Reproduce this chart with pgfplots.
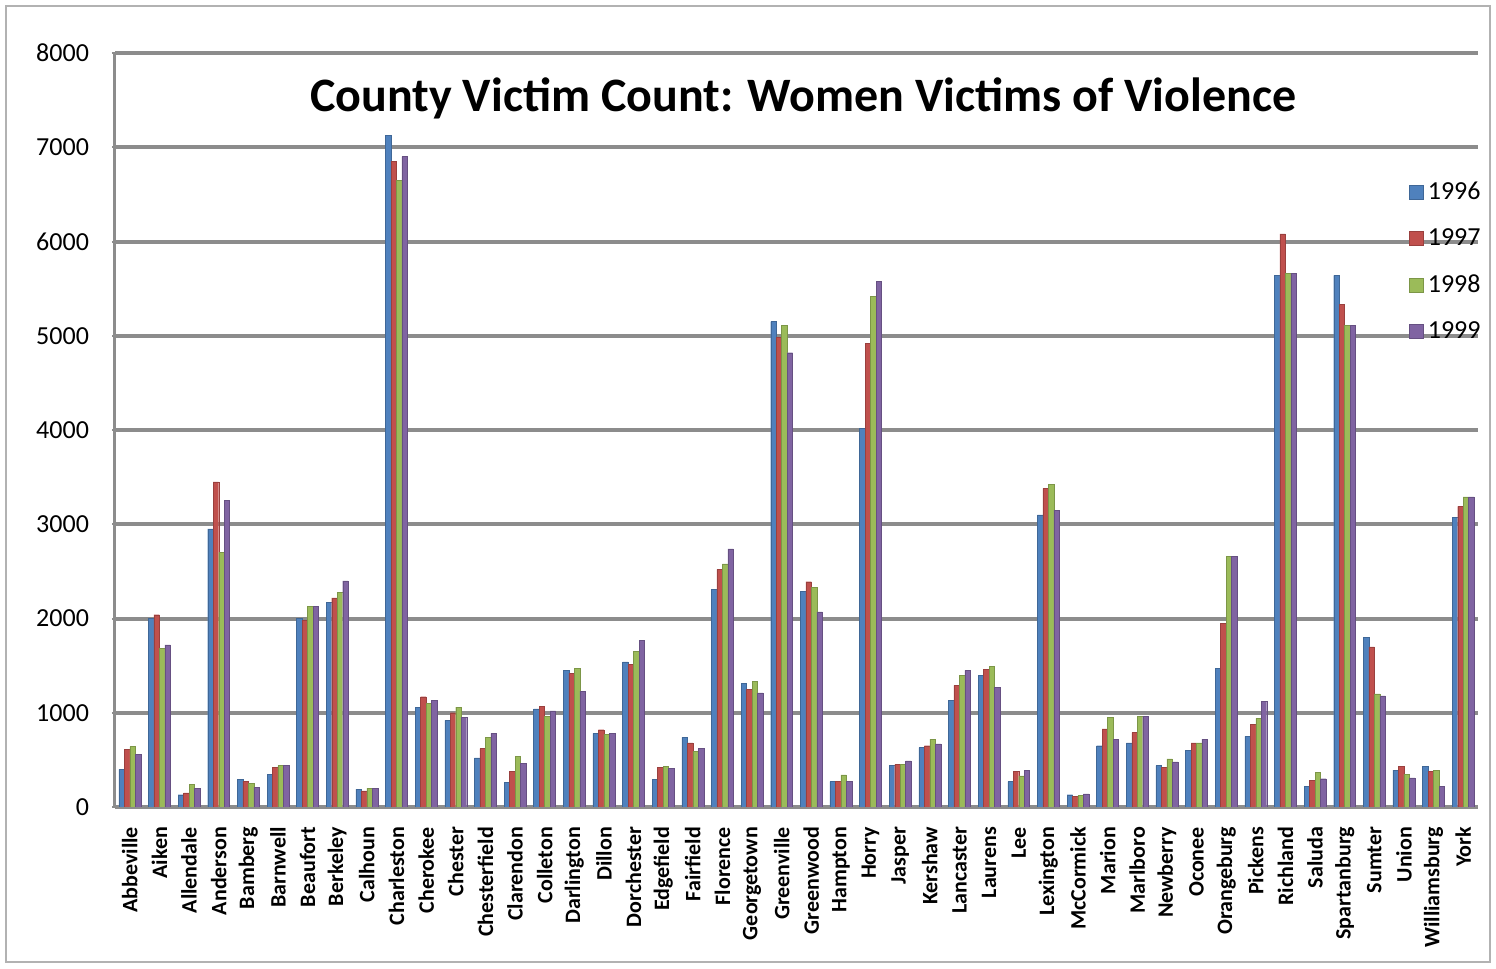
\documentclass[border=0pt]{standalone}
\usepackage{pgfplots}
\pgfplotsset{compat=1.18}
\usepackage{pgfplotstable}
\usepackage{fontspec}
\setmainfont{Carlito}

\definecolor{xblue}{RGB}{79,129,189}
\definecolor{xred}{RGB}{192,80,77}
\definecolor{xgreen}{RGB}{155,187,89}
\definecolor{xpurple}{RGB}{128,100,162}
\definecolor{gridgray}{RGB}{140,140,140}

% county index, 1996, 1997, 1998, 1999
\pgfplotstableread{
idx y96 y97 y98 y99
0 400 610 640 560
1 2000 2040 1680 1720
2 130 150 240 200
3 2950 3450 2700 3250
4 290 270 250 210
5 350 420 440 440
6 2000 1980 2130 2130
7 2170 2220 2280 2400
8 190 170 200 200
9 7130 6850 6650 6900
10 1060 1170 1100 1130
11 920 1000 1060 950
12 520 620 740 780
13 260 380 540 460
14 1040 1070 960 1020
15 1450 1420 1470 1230
16 780 820 770 780
17 1540 1510 1650 1770
18 290 420 430 410
19 740 680 590 620
20 2310 2520 2580 2740
21 1310 1250 1330 1210
22 5150 4980 5110 4820
23 2290 2390 2330 2070
24 270 270 340 270
25 4020 4920 5420 5580
26 440 450 450 490
27 630 650 720 670
28 1130 1290 1400 1450
29 1400 1460 1490 1270
30 270 380 330 390
31 3100 3380 3420 3150
32 130 110 120 140
33 650 830 950 720
34 680 790 960 960
35 440 420 510 480
36 600 680 680 720
37 1470 1950 2660 2660
38 750 880 940 1120
39 5640 6080 5660 5660
40 220 280 370 300
41 5640 5330 5110 5110
42 1800 1700 1200 1180
43 390 430 350 310
44 430 380 390 220
45 3070 3190 3290 3290
}\data

\begin{document}
\begin{tikzpicture}
\begin{axis}[
    at={(0,0)}, anchor=south west,
    scale only axis,
    width=681.5pt, height=377pt,
    ybar=0pt, bar width=0.185,
    xmin=-0.5, xmax=45.5,
    ymin=0, ymax=8000,
    ytick={0,1000,...,8000},
    xtick={0,...,45},
    xticklabels={Abbeville,Aiken,Allendale,Anderson,Bamberg,Barnwell,Beaufort,Berkeley,Calhoun,Charleston,Cherokee,Chester,Chesterfield,Clarendon,Colleton,Darlington,Dillon,Dorchester,Edgefield,Fairfield,Florence,Georgetown,Greenville,Greenwood,Hampton,Horry,Jasper,Kershaw,Lancaster,Laurens,Lee,Lexington,McCormick,Marion,Marlboro,Newberry,Oconee,Orangeburg,Pickens,Richland,Saluda,Spartanburg,Sumter,Union,Williamsburg,York},
    x tick label style={rotate=90, anchor=east, font=\fontsize{11}{13}\selectfont\bfseries},
    xticklabel shift=5pt,
    y tick label style={font=\fontsize{13}{15}\selectfont},
    yticklabel style={xshift=-8pt},
    /pgf/number format/assume math mode=true,
    scaled y ticks=false,
    yticklabel={\pgfmathprintnumber[fixed,1000 sep={}]{\tick}},
    axis lines=left,
    axis line style={-, gridgray, line width=1.5pt},
    major tick length=3pt,
    xtick style={draw=none},
    ytick style={gridgray, line width=1pt},
    ymajorgrids=true,
    grid style={gridgray, line width=2pt},
    title={County Victim Count: Women Victims of Violence},
    title style={at={(0.505,0.924)}, anchor=center, font=\fontsize{24}{28}\selectfont\bfseries},
    legend style={at={(0.945,0.84)}, anchor=north west, draw=none, fill=none,
        font=\fontsize{13}{15}\selectfont, row sep=9pt},
    legend cell align=left,
    legend image code/.code={\fill[#1] (0pt,-3.5pt) rectangle (7pt,3.5pt);},
]
\addplot[fill=xblue, draw=xblue!80!black, line width=0.2pt] table[x=idx, y=y96] {\data};
\addplot[fill=xred, draw=xred!80!black, line width=0.2pt] table[x=idx, y=y97] {\data};
\addplot[fill=xgreen, draw=xgreen!80!black, line width=0.2pt] table[x=idx, y=y98] {\data};
\addplot[fill=xpurple, draw=xpurple!80!black, line width=0.2pt] table[x=idx, y=y99] {\data};
\legend{1996,1997,1998,1999}
\end{axis}
\draw[gray!60, line width=0.8pt] (-54.5pt,-77.5pt) rectangle (687.5pt,400.5pt);
\pgfresetboundingbox
\path (-57.5pt,-81pt) rectangle (690.5pt,403.5pt);
\end{tikzpicture}
\end{document}
